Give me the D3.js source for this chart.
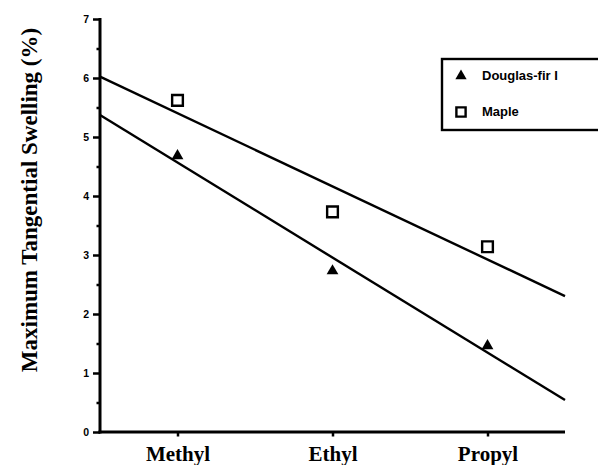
<!DOCTYPE html>
<html><head><meta charset="utf-8">
<script src="https://cdn.jsdelivr.net/npm/d3@7"></script>
<style>body{margin:0;background:#fff}svg{display:block}</style>
</head><body>
<svg id="c" width="598" height="465"></svg>
<script>
const categories = ["Methyl", "Ethyl", "Propyl"];
const douglasFir = [4.68, 2.73, 1.46];
const maple = [5.62, 3.73, 3.14];
const yTicks = [0, 1, 2, 3, 4, 5, 6, 7];
const yMinorTicks = [0.5, 1.5, 2.5, 3.5, 4.5, 5.5, 6.5];
const seriesNames = ["Douglas-fir I", "Maple"];

const svg = d3.select("#c");
const x = d3.scaleLinear().domain([0.5, 3.5]).range([100, 565]);
const y = d3.scaleLinear().domain([0, 7]).range([432, 19]);
const catPos = categories.map((c, i) => i + 1);

function fit(vals) {
  const xs = catPos;
  const mx = d3.mean(xs), my = d3.mean(vals);
  let num = 0, den = 0;
  xs.forEach((xi, i) => { num += (xi - mx) * (vals[i] - my); den += (xi - mx) ** 2; });
  const b = num / den, a = my - b * mx;
  return t => a + b * t;
}

// axes
const x0 = x.range()[0];
const yAxis = d3.axisLeft(y).tickValues(yTicks).tickSize(7).tickPadding(4).tickFormat(d3.format("d"));
const gy = svg.append("g").attr("transform", `translate(${x0},0)`).call(yAxis);
gy.select(".domain").remove();
gy.selectAll(".tick line").attr("stroke", "#000").attr("stroke-width", 2.5);
gy.selectAll(".tick text").attr("font-family", "Liberation Sans, Arial, sans-serif").attr("font-weight", "bold").attr("font-size", 10.5).attr("fill", "#000");
const gyMinor = svg.append("g").attr("transform", `translate(${x0},0)`)
  .call(d3.axisLeft(y).tickValues(yMinorTicks).tickSize(3.5).tickFormat(""));
gyMinor.select(".domain").remove();
gyMinor.selectAll(".tick line").attr("stroke", "#000").attr("stroke-width", 2.5);

const xAxis = d3.axisBottom(x).tickValues(catPos).tickSize(4.5).tickFormat((d, i) => categories[i]);
const gx = svg.append("g").attr("transform", `translate(0,${y(0)})`).call(xAxis);
gx.select(".domain").remove();
gx.selectAll(".tick line").attr("stroke", "#000").attr("stroke-width", 2.5);
gx.selectAll(".tick text").attr("y", 29).attr("dy", 0)
  .attr("font-family", "Liberation Serif, Times New Roman, serif").attr("font-weight", "bold").attr("font-size", 21).attr("fill", "#000");

// axis lines
svg.append("line").attr("x1", x0).attr("x2", x0).attr("y1", y(7) - 1).attr("y2", y(0) + 1.5)
  .attr("stroke", "#000").attr("stroke-width", 3);
svg.append("line").attr("x1", x0 - 1.5).attr("x2", x.range()[1]).attr("y1", y(0)).attr("y2", y(0))
  .attr("stroke", "#000").attr("stroke-width", 3);

// y label
svg.append("text").attr("transform", "translate(37,200) rotate(-90)")
  .attr("text-anchor", "middle").attr("font-family", "Liberation Serif, Times New Roman, serif")
  .attr("font-weight", "bold").attr("font-size", 23).text("Maximum Tangential Swelling (%)");

// regression lines
[douglasFir, maple].forEach(vals => {
  const f = fit(vals);
  svg.append("path").datum(x.domain())
    .attr("d", d3.line().x(d => x(d)).y(d => y(f(d))))
    .attr("stroke", "#000").attr("stroke-width", 2.4).attr("fill", "none");
});

// points
const tri = d3.symbol().type(d3.symbolTriangle).size(60);
const sq = d3.symbol().type(d3.symbolSquare).size(115);
svg.append("g").selectAll("path").data(douglasFir).join("path")
  .attr("transform", (d, i) => `translate(${x(catPos[i])},${y(d)})`).attr("d", tri).attr("fill", "#000");
svg.append("g").selectAll("path").data(maple).join("path")
  .attr("transform", (d, i) => `translate(${x(catPos[i])},${y(d)})`).attr("d", sq)
  .attr("fill", "#fff").attr("stroke", "#000").attr("stroke-width", 2.4);

// legend
const lg = svg.append("g");
lg.append("rect").attr("x", 442).attr("y", 59).attr("width", 170).attr("height", 71)
  .attr("fill", "none").attr("stroke", "#000").attr("stroke-width", 2.4);
lg.append("path").attr("transform", "translate(461,76)").attr("d", d3.symbol().type(d3.symbolTriangle).size(55)).attr("fill", "#000");
lg.append("path").attr("transform", "translate(461,112)").attr("d", d3.symbol().type(d3.symbolSquare).size(85))
  .attr("fill", "#fff").attr("stroke", "#000").attr("stroke-width", 2.4);
seriesNames.forEach((s, i) => {
  lg.append("text").attr("x", 482).attr("y", 80 + i * 36).attr("font-family", "Liberation Sans, Arial, sans-serif")
    .attr("font-weight", "bold").attr("font-size", 13).text(s);
});
</script>
</body></html>
